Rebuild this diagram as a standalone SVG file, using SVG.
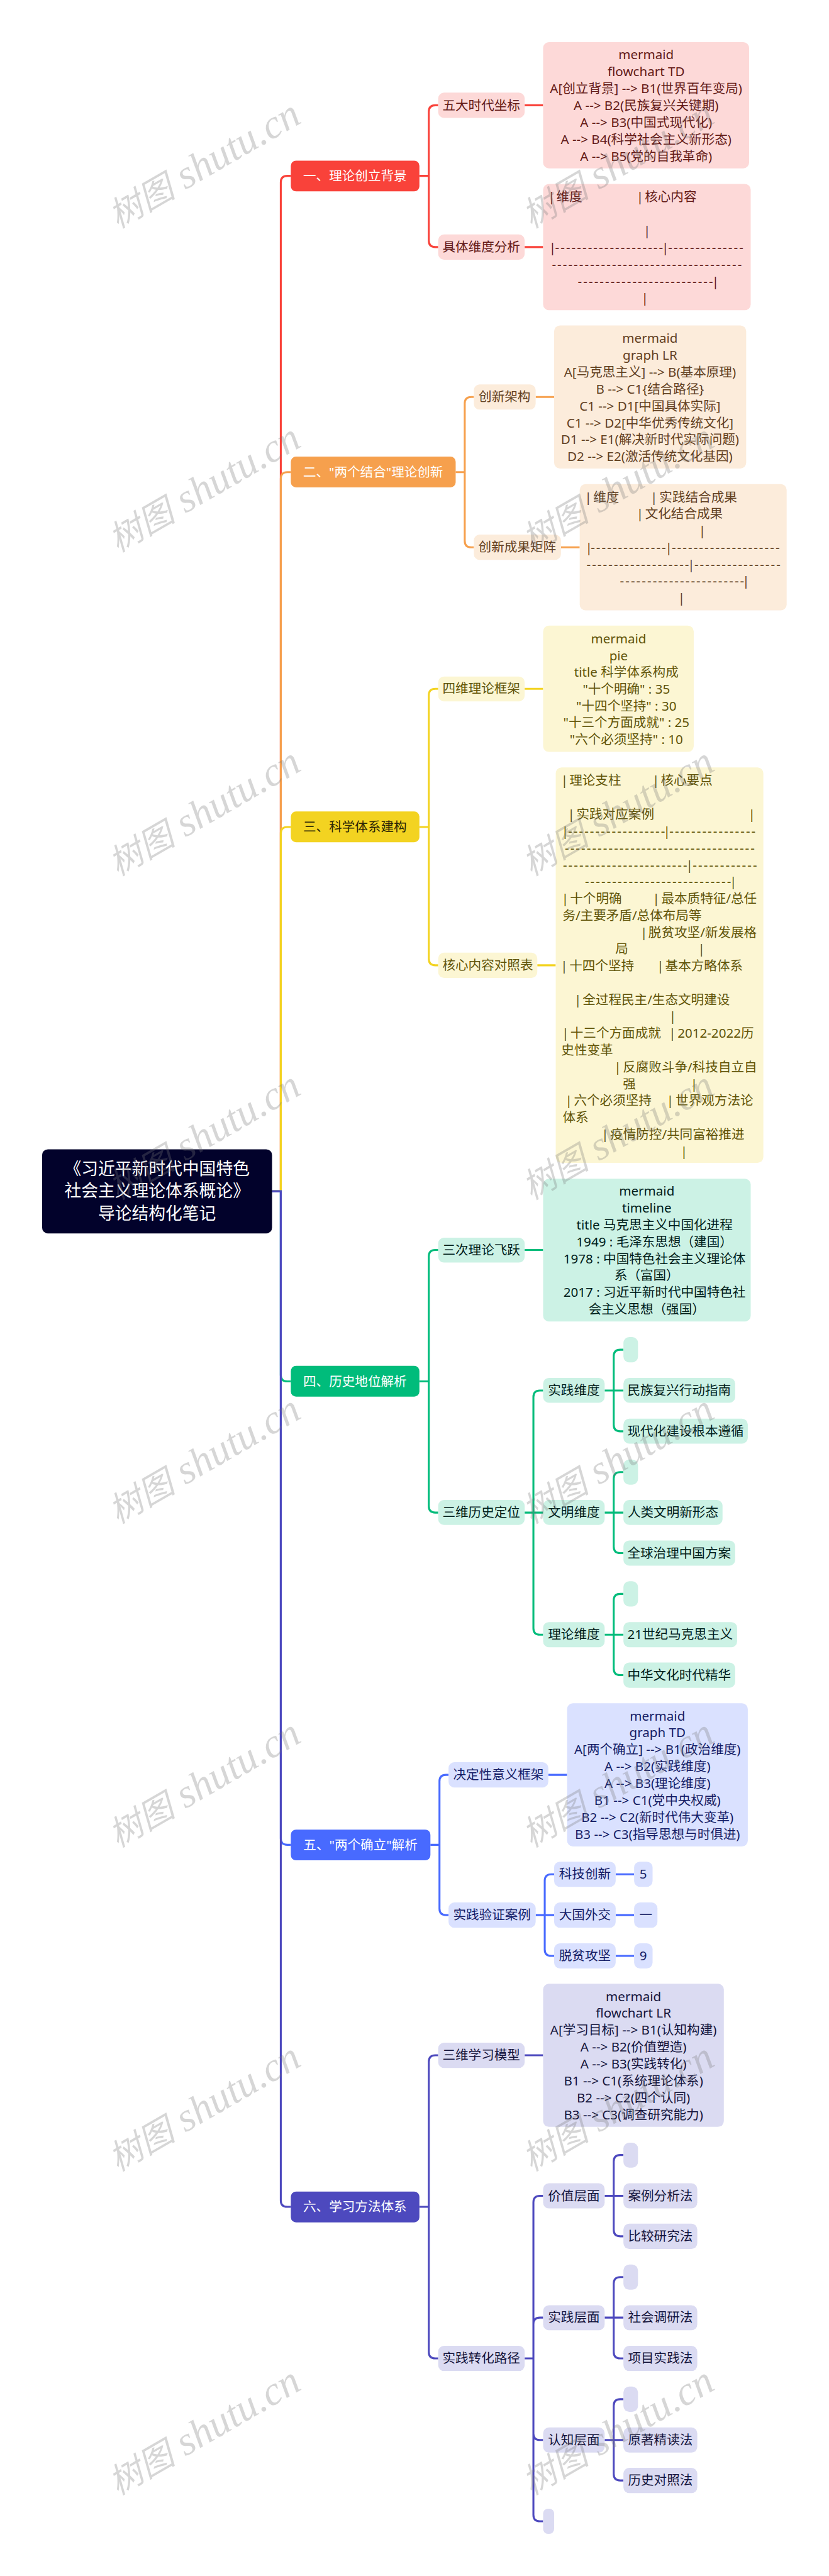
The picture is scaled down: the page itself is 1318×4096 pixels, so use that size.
<svg xmlns="http://www.w3.org/2000/svg" width="1318" height="4096" viewBox="0 0 1318 4096">
<style>
text{font-family:"Noto Sans","Noto Sans CJK SC",sans-serif;font-size:40px}
.c{text-anchor:middle}
.d{letter-spacing:4px}
.root rect{fill:#02022b}.root text{fill:#fff;font-size:52px}
.b1 rect{fill:#fdd9d8}.b1 text{fill:#631a17}
.b2 rect{fill:#fcecdb}.b2 text{fill:#62401f}
.b3 rect{fill:#fcf6d3}.b3 text{fill:#615408}
.b4 rect{fill:#ccf2e5}.b4 text{fill:#00201a}
.b5 rect{fill:#dae1ff}.b5 text{fill:#141c66}
.b6 rect{fill:#dbdbf2}.b6 text{fill:#14143c}
g.top text{fill:#fff}
.b1.top rect{fill:#f9423a}.b2.top rect{fill:#f6a04d}.b3.top rect{fill:#f3d321}.b4.top rect{fill:#00bc7b}.b5.top rect{fill:#486aff}.b6.top rect{fill:#4d49be}
.b3.top text{fill:#2b2605}
#connectors{fill:none;stroke-width:6}
.s1{stroke:#f9423a}.s2{stroke:#f6a04d}.s3{stroke:#f3d321}.s4{stroke:#00bc7b}.s5{stroke:#486aff}.s6{stroke:#4d49be}
.wm text{font-family:"Liberation Serif","Noto Sans CJK SC",serif;font-size:125px;font-style:italic;fill:#777;fill-opacity:.3}
.wm tspan{font-size:105px}
</style>
<g transform="scale(0.5149)">
<g id="connectors">
<path class="s1" d="M840 3679H867V563Q867 543 887 543H898M1295 543H1324V345Q1324 325 1344 325H1353M1324 543V743Q1324 763 1344 763H1353M1620 325H1677M1620 763H1677"/>
<path class="s2" d="M840 3679H867V1478Q867 1458 887 1458H898M1407 1458H1435V1246Q1435 1226 1455 1226H1463M1435 1458V1670Q1435 1690 1455 1690H1463M1654 1226H1711M1732 1690H1790"/>
<path class="s3" d="M840 3679H867V2574Q867 2554 887 2554H898M1295 2554H1324V2147Q1324 2127 1344 2127H1353M1324 2554V2961Q1324 2981 1344 2981H1353M1620 2127H1677M1659 2981H1716"/>
<path class="s4" d="M840 3679H867V4246Q867 4266 887 4266H898M1295 4266H1324V3880Q1324 3860 1344 3860H1353M1324 4266V4651Q1324 4671 1344 4671H1353M1620 3860H1677M1620 4671H1677M1647 4671V4314Q1647 4294 1667 4294H1677M1647 4671V5028Q1647 5048 1667 5048H1677M1867 4294H1925M1895 4294V4188Q1895 4168 1915 4168H1925M1895 4294V4400Q1895 4420 1915 4420H1925M1867 4671H1925M1895 4671V4566Q1895 4546 1915 4546H1925M1895 4671V4776Q1895 4796 1915 4796H1925M1867 5048H1925M1895 5048V4942Q1895 4922 1915 4922H1925M1895 5048V5153Q1895 5173 1915 5173H1925"/>
<path class="s5" d="M840 3679H867V5677Q867 5697 887 5697H898M1329 5697H1357V5501Q1357 5481 1377 5481H1385M1357 5697V5894Q1357 5914 1377 5914H1385M1693 5481H1751M1654 5914H1711M1682 5914V5808Q1682 5788 1702 5788H1711M1682 5914V6020Q1682 6040 1702 6040H1711M1901 5788H1958M1901 5914H1958M1901 6040H1958"/>
<path class="s6" d="M840 3679H867V6795Q867 6815 887 6815H898M1295 6815H1324V6367Q1324 6347 1344 6347H1353M1324 6815V7263Q1324 7283 1344 7283H1353M1620 6347H1677M1620 7283H1647M1647 7283V6801Q1647 6781 1667 6781H1677M1647 7177Q1647 7157 1667 7157H1677M1647 7283V7766Q1647 7786 1667 7786H1677M1647 7515Q1647 7535 1667 7535H1677M1867 6781H1925M1895 6781V6675Q1895 6655 1915 6655H1925M1895 6781V6886Q1895 6906 1915 6906H1925M1867 7157H1925M1895 7157V7052Q1895 7032 1915 7032H1925M1895 7157V7263Q1895 7283 1915 7283H1925M1867 7535H1925M1895 7535V7429Q1895 7409 1915 7409H1925M1895 7535V7640Q1895 7660 1915 7660H1925"/>
</g>

<g id="root" class="root"><rect x="130" y="3549" width="710" height="260" rx="18"/><text class="c"><tspan x="485" y="3628">《习近平新时代中国特色</tspan><tspan x="485" y="3696">社会主义理论体系概论》</tspan><tspan x="485" y="3765">导论结构化笔记</tspan></text></g>

<g id="n1" class="b1 top"><rect x="898" y="496" width="397" height="95" rx="16"/><text class="c" x="1096" y="557">一、理论创立背景</text></g>
<g id="n1-1" class="b1"><rect x="1353" y="286" width="267" height="78" rx="18"/><text class="c" x="1486" y="339">五大时代坐标</text></g>
<g id="n1-1-1" class="b1"><rect x="1677" y="130" width="636" height="390" rx="18"/><text class="c"><tspan x="1995" y="183">mermaid</tspan><tspan x="1995" y="235">flowchart TD</tspan><tspan x="1995" y="287">A[创立背景] --&gt; B1(世界百年变局)</tspan><tspan x="1995" y="340">A --&gt; B2(民族复兴关键期)</tspan><tspan x="1995" y="392">A --&gt; B3(中国式现代化)</tspan><tspan x="1995" y="444">A --&gt; B4(科学社会主义新形态)</tspan><tspan x="1995" y="497">A --&gt; B5(党的自我革命)</tspan></text></g>
<g id="n1-2" class="b1"><rect x="1353" y="724" width="267" height="78" rx="18"/><text class="c" x="1486" y="777">具体维度分析</text></g>
<g id="n1-2-1" class="b1"><rect x="1677" y="568" width="641" height="390" rx="18"/><text><tspan x="1692" y="622">|</tspan><tspan x="1718" y="622">维度</tspan><tspan x="1965" y="622">|</tspan><tspan x="1991" y="622">核心内容</tspan><tspan x="1987" y="727">|</tspan><tspan x="1695" y="779">|</tspan><tspan class="d" x="1714" y="779">--------------------</tspan><tspan x="2043" y="779">|</tspan><tspan class="d" x="2063" y="779">--------------</tspan><tspan class="d" x="1704" y="831">-----------------------------------</tspan><tspan class="d" x="1784" y="883">-------------------------</tspan><tspan x="2198" y="883">|</tspan><tspan x="1980" y="935">|</tspan></text></g>

<g id="n2" class="b2 top"><rect x="898" y="1410" width="509" height="95" rx="16"/><text class="c" x="1152" y="1472">二、"两个结合"理论创新</text></g>
<g id="n2-1" class="b2"><rect x="1463" y="1187" width="191" height="78" rx="18"/><text class="c" x="1558" y="1240">创新架构</text></g>
<g id="n2-1-1" class="b2"><rect x="1711" y="1005" width="593" height="442" rx="18"/><text class="c"><tspan x="2007" y="1059">mermaid</tspan><tspan x="2007" y="1111">graph LR</tspan><tspan x="2007" y="1163">A[马克思主义] --&gt; B(基本原理)</tspan><tspan x="2007" y="1215">B --&gt; C1{结合路径}</tspan><tspan x="2007" y="1268">C1 --&gt; D1[中国具体实际]</tspan><tspan x="2007" y="1320">C1 --&gt; D2[中华优秀传统文化]</tspan><tspan x="2007" y="1372">D1 --&gt; E1(解决新时代实际问题)</tspan><tspan x="2007" y="1424">D2 --&gt; E2(激活传统文化基因)</tspan></text></g>
<g id="n2-2" class="b2"><rect x="1463" y="1651" width="269" height="78" rx="18"/><text class="c" x="1597" y="1704">创新成果矩阵</text></g>
<g id="n2-2-1" class="b2"><rect x="1790" y="1495" width="639" height="390" rx="18"/><text><tspan x="1805" y="1549">|</tspan><tspan x="1832" y="1549">维度</tspan><tspan x="2008" y="1549">|</tspan><tspan x="2036" y="1549">实践结合成果</tspan><tspan x="1965" y="1601">|</tspan><tspan x="1992" y="1601">文化结合成果</tspan><tspan x="2157" y="1653">|</tspan><tspan x="1807" y="1705">|</tspan><tspan class="d" x="1824" y="1705">--------------</tspan><tspan x="2054" y="1705">|</tspan><tspan class="d" x="2074" y="1705">--------------------</tspan><tspan class="d" x="1811" y="1757">-------------------</tspan><tspan x="2123" y="1757">|</tspan><tspan class="d" x="2144" y="1757">----------------</tspan><tspan class="d" x="1914" y="1809">-----------------------</tspan><tspan x="2292" y="1809">|</tspan><tspan x="2093" y="1861">|</tspan></text></g>

<g id="n3" class="b3 top"><rect x="898" y="2506" width="397" height="95" rx="16"/><text class="c" x="1096" y="2568">三、科学体系建构</text></g>
<g id="n3-1" class="b3"><rect x="1353" y="2089" width="267" height="77" rx="18"/><text class="c" x="1486" y="2141">四维理论框架</text></g>
<g id="n3-1-1" class="b3"><rect x="1677" y="1932" width="465" height="390" rx="18"/><text class="c"><tspan x="1910" y="1986">mermaid</tspan><tspan x="1910" y="2039">pie</tspan><tspan x="1934" y="2090">title 科学体系构成</tspan><tspan x="1934" y="2142">"十个明确" : 35</tspan><tspan x="1934" y="2194">"十四个坚持" : 30</tspan><tspan x="1934" y="2246">"十三个方面成就" : 25</tspan><tspan x="1934" y="2297">"六个必须坚持" : 10</tspan></text></g>
<g id="n3-2" class="b3"><rect x="1353" y="2942" width="306" height="78" rx="18"/><text class="c" x="1506" y="2995">核心内容对照表</text></g>
<g id="n3-2-1" class="b3"><rect x="1716" y="2370" width="641" height="1221" rx="18"/><text><tspan x="1732" y="2424">|</tspan><tspan x="1758" y="2424">理论支柱</tspan><tspan x="2014" y="2424">|</tspan><tspan x="2040" y="2424">核心要点</tspan><tspan x="1753" y="2529">|</tspan><tspan x="1780" y="2529">实践对应案例</tspan><tspan x="2310" y="2529">|</tspan><tspan x="1734" y="2581">|</tspan><tspan class="d" x="1754" y="2581">------------------</tspan><tspan x="2048" y="2581">|</tspan><tspan class="d" x="2067" y="2581">----------------</tspan><tspan class="d" x="1744" y="2633">-----------------------------------</tspan><tspan class="d" x="1738" y="2685">-----------------------</tspan><tspan x="2118" y="2685">|</tspan><tspan class="d" x="2139" y="2685">------------</tspan><tspan class="d" x="1806" y="2737">---------------------------</tspan><tspan x="2253" y="2737">|</tspan><tspan x="1734" y="2789">|</tspan><tspan x="1760" y="2789">十个明确</tspan><tspan x="2015" y="2789">|</tspan><tspan x="2042" y="2789">最本质特征/总任</tspan><tspan x="1737" y="2841">务/主要矛盾/总体布局等</tspan><tspan x="1977" y="2893">|</tspan><tspan x="2002" y="2893">脱贫攻坚/新发展格</tspan><tspan x="1900" y="2945">局</tspan><tspan x="2155" y="2945">|</tspan><tspan x="1731" y="2997">|</tspan><tspan x="1758" y="2997">十四个坚持</tspan><tspan x="2028" y="2997">|</tspan><tspan x="2054" y="2997">基本方略体系</tspan><tspan x="1773" y="3101">|</tspan><tspan x="1799" y="3101">全过程民主/生态文明建设</tspan><tspan x="2066" y="3153">|</tspan><tspan x="1735" y="3205">|</tspan><tspan x="1761" y="3205">十三个方面成就</tspan><tspan x="2065" y="3205">|</tspan><tspan x="2092" y="3205">2012-2022历</tspan><tspan x="1733" y="3257">史性变革</tspan><tspan x="1896" y="3309">|</tspan><tspan x="1923" y="3309">反腐败斗争/科技自立自</tspan><tspan x="1923" y="3361">强</tspan><tspan x="2132" y="3361">|</tspan><tspan x="1745" y="3413">|</tspan><tspan x="1772" y="3413">六个必须坚持</tspan><tspan x="2058" y="3413">|</tspan><tspan x="2086" y="3413">世界观方法论</tspan><tspan x="1737" y="3465">体系</tspan><tspan x="1857" y="3517">|</tspan><tspan x="1884" y="3517">疫情防控/共同富裕推进</tspan><tspan x="2101" y="3569">|</tspan></text></g>

<g id="n4" class="b4 top"><rect x="898" y="4218" width="397" height="95" rx="16"/><text class="c" x="1096" y="4280">四、历史地位解析</text></g>
<g id="n4-1" class="b4"><rect x="1353" y="3822" width="267" height="77" rx="18"/><text class="c" x="1486" y="3874">三次理论飞跃</text></g>
<g id="n4-1-1" class="b4"><rect x="1677" y="3640" width="641" height="441" rx="18"/><text class="c"><tspan x="1997" y="3692">mermaid</tspan><tspan x="1997" y="3745">timeline</tspan><tspan x="2021" y="3797">title 马克思主义中国化进程</tspan><tspan x="2021" y="3849">1949 : 毛泽东思想（建国）</tspan><tspan x="2021" y="3901">1978 : 中国特色社会主义理论体</tspan><tspan x="1997" y="3953">系（富国）</tspan><tspan x="2021" y="4005">2017 : 习近平新时代中国特色社</tspan><tspan x="1997" y="4057">会主义思想（强国）</tspan></text></g>
<g id="n4-2" class="b4"><rect x="1353" y="4632" width="267" height="77" rx="18"/><text class="c" x="1486" y="4685">三维历史定位</text></g>
<g id="n4-2-1" class="b4"><rect x="1677" y="4255" width="190" height="77" rx="18"/><text class="c" x="1772" y="4308">实践维度</text></g>
<g id="n4-2-1-0" class="b4"><rect x="1925" y="4129" width="45" height="78" rx="18"/></g>
<g id="n4-2-1-1" class="b4"><rect x="1925" y="4255" width="345" height="77" rx="18"/><text class="c" x="2097" y="4308">民族复兴行动指南</text></g>
<g id="n4-2-1-2" class="b4"><rect x="1925" y="4381" width="384" height="77" rx="18"/><text class="c" x="2117" y="4434">现代化建设根本遵循</text></g>
<g id="n4-2-2" class="b4"><rect x="1677" y="4632" width="190" height="77" rx="18"/><text class="c" x="1772" y="4685">文明维度</text></g>
<g id="n4-2-2-0" class="b4"><rect x="1925" y="4507" width="45" height="78" rx="18"/></g>
<g id="n4-2-2-1" class="b4"><rect x="1925" y="4632" width="306" height="77" rx="18"/><text class="c" x="2078" y="4685">人类文明新形态</text></g>
<g id="n4-2-2-2" class="b4"><rect x="1925" y="4757" width="345" height="78" rx="18"/><text class="c" x="2097" y="4810">全球治理中国方案</text></g>
<g id="n4-2-3" class="b4"><rect x="1677" y="5009" width="190" height="78" rx="18"/><text class="c" x="1772" y="5062">理论维度</text></g>
<g id="n4-2-3-0" class="b4"><rect x="1925" y="4883" width="45" height="78" rx="18"/></g>
<g id="n4-2-3-1" class="b4"><rect x="1925" y="5009" width="351" height="78" rx="18"/><text class="c" x="2100" y="5062">21世纪马克思主义</text></g>
<g id="n4-2-3-2" class="b4"><rect x="1925" y="5134" width="345" height="78" rx="18"/><text class="c" x="2097" y="5187">中华文化时代精华</text></g>

<g id="n5" class="b5 top"><rect x="898" y="5650" width="431" height="95" rx="16"/><text class="c" x="1113" y="5711">五、"两个确立"解析</text></g>
<g id="n5-1" class="b5"><rect x="1385" y="5442" width="308" height="78" rx="18"/><text class="c" x="1539" y="5495">决定性意义框架</text></g>
<g id="n5-1-1" class="b5"><rect x="1751" y="5260" width="558" height="442" rx="18"/><text class="c"><tspan x="2030" y="5313">mermaid</tspan><tspan x="2030" y="5365">graph TD</tspan><tspan x="2030" y="5417">A[两个确立] --&gt; B1(政治维度)</tspan><tspan x="2030" y="5469">A --&gt; B2(实践维度)</tspan><tspan x="2030" y="5521">A --&gt; B3(理论维度)</tspan><tspan x="2030" y="5574">B1 --&gt; C1(党中央权威)</tspan><tspan x="2030" y="5626">B2 --&gt; C2(新时代伟大变革)</tspan><tspan x="2030" y="5678">B3 --&gt; C3(指导思想与时俱进)</tspan></text></g>
<g id="n5-2" class="b5"><rect x="1385" y="5875" width="269" height="78" rx="18"/><text class="c" x="1519" y="5928">实践验证案例</text></g>
<g id="n5-2-1" class="b5"><rect x="1711" y="5749" width="190" height="78" rx="18"/><text class="c" x="1806" y="5802">科技创新</text></g>
<g id="n5-2-1-1" class="b5"><rect x="1958" y="5749" width="57" height="78" rx="18"/><text class="c" x="1986" y="5802">5</text></g>
<g id="n5-2-2" class="b5"><rect x="1711" y="5875" width="190" height="78" rx="18"/><text class="c" x="1806" y="5928">大国外交</text></g>
<g id="n5-2-2-1" class="b5"><rect x="1958" y="5875" width="72" height="78" rx="18"/><text class="c" x="1994" y="5928">一</text></g>
<g id="n5-2-3" class="b5"><rect x="1711" y="6001" width="190" height="78" rx="18"/><text class="c" x="1806" y="6054">脱贫攻坚</text></g>
<g id="n5-2-3-1" class="b5"><rect x="1958" y="6001" width="57" height="78" rx="18"/><text class="c" x="1986" y="6054">9</text></g>

<g id="n6" class="b6 top"><rect x="898" y="6768" width="397" height="95" rx="16"/><text class="c" x="1096" y="6829">六、学习方法体系</text></g>
<g id="n6-1" class="b6"><rect x="1353" y="6308" width="267" height="78" rx="18"/><text class="c" x="1486" y="6361">三维学习模型</text></g>
<g id="n6-1-1" class="b6"><rect x="1677" y="6126" width="558" height="442" rx="18"/><text class="c"><tspan x="1956" y="6179">mermaid</tspan><tspan x="1956" y="6231">flowchart LR</tspan><tspan x="1956" y="6283">A[学习目标] --&gt; B1(认知构建)</tspan><tspan x="1956" y="6335">A --&gt; B2(价值塑造)</tspan><tspan x="1956" y="6387">A --&gt; B3(实践转化)</tspan><tspan x="1956" y="6440">B1 --&gt; C1(系统理论体系)</tspan><tspan x="1956" y="6492">B2 --&gt; C2(四个认同)</tspan><tspan x="1956" y="6544">B3 --&gt; C3(调查研究能力)</tspan></text></g>
<g id="n6-2" class="b6"><rect x="1353" y="7244" width="267" height="78" rx="18"/><text class="c" x="1486" y="7297">实践转化路径</text></g>
<g id="n6-2-1" class="b6"><rect x="1677" y="6742" width="190" height="78" rx="18"/><text class="c" x="1772" y="6795">价值层面</text></g>
<g id="n6-2-1-0" class="b6"><rect x="1925" y="6617" width="45" height="77" rx="18"/></g>
<g id="n6-2-1-1" class="b6"><rect x="1925" y="6742" width="228" height="78" rx="18"/><text class="c" x="2039" y="6795">案例分析法</text></g>
<g id="n6-2-1-2" class="b6"><rect x="1925" y="6867" width="228" height="78" rx="18"/><text class="c" x="2039" y="6920">比较研究法</text></g>
<g id="n6-2-2" class="b6"><rect x="1677" y="7119" width="190" height="77" rx="18"/><text class="c" x="1772" y="7171">实践层面</text></g>
<g id="n6-2-2-0" class="b6"><rect x="1925" y="6993" width="45" height="78" rx="18"/></g>
<g id="n6-2-2-1" class="b6"><rect x="1925" y="7119" width="228" height="77" rx="18"/><text class="c" x="2039" y="7171">社会调研法</text></g>
<g id="n6-2-2-2" class="b6"><rect x="1925" y="7244" width="228" height="78" rx="18"/><text class="c" x="2039" y="7297">项目实践法</text></g>
<g id="n6-2-3" class="b6"><rect x="1677" y="7496" width="190" height="78" rx="18"/><text class="c" x="1772" y="7549">认知层面</text></g>
<g id="n6-2-3-0" class="b6"><rect x="1925" y="7370" width="45" height="78" rx="18"/></g>
<g id="n6-2-3-1" class="b6"><rect x="1925" y="7496" width="228" height="78" rx="18"/><text class="c" x="2039" y="7549">原著精读法</text></g>
<g id="n6-2-3-2" class="b6"><rect x="1925" y="7621" width="228" height="78" rx="18"/><text class="c" x="2039" y="7674">历史对照法</text></g>
<g id="n6-2-4" class="b6"><rect x="1677" y="7747" width="34" height="78" rx="15"/></g>

<g id="watermark" class="wm">
<text transform="translate(363 707) rotate(-30)"><tspan>树图</tspan> shutu.cn</text>
<text transform="translate(1640 707) rotate(-30)"><tspan>树图</tspan> shutu.cn</text>
<text transform="translate(363 1707) rotate(-30)"><tspan>树图</tspan> shutu.cn</text>
<text transform="translate(1640 1707) rotate(-30)"><tspan>树图</tspan> shutu.cn</text>
<text transform="translate(363 2707) rotate(-30)"><tspan>树图</tspan> shutu.cn</text>
<text transform="translate(1640 2707) rotate(-30)"><tspan>树图</tspan> shutu.cn</text>
<text transform="translate(363 3707) rotate(-30)"><tspan>树图</tspan> shutu.cn</text>
<text transform="translate(1640 3707) rotate(-30)"><tspan>树图</tspan> shutu.cn</text>
<text transform="translate(363 4707) rotate(-30)"><tspan>树图</tspan> shutu.cn</text>
<text transform="translate(1640 4707) rotate(-30)"><tspan>树图</tspan> shutu.cn</text>
<text transform="translate(363 5707) rotate(-30)"><tspan>树图</tspan> shutu.cn</text>
<text transform="translate(1640 5707) rotate(-30)"><tspan>树图</tspan> shutu.cn</text>
<text transform="translate(363 6707) rotate(-30)"><tspan>树图</tspan> shutu.cn</text>
<text transform="translate(1640 6707) rotate(-30)"><tspan>树图</tspan> shutu.cn</text>
<text transform="translate(363 7707) rotate(-30)"><tspan>树图</tspan> shutu.cn</text>
<text transform="translate(1640 7707) rotate(-30)"><tspan>树图</tspan> shutu.cn</text>
</g>
</g>
</svg>
